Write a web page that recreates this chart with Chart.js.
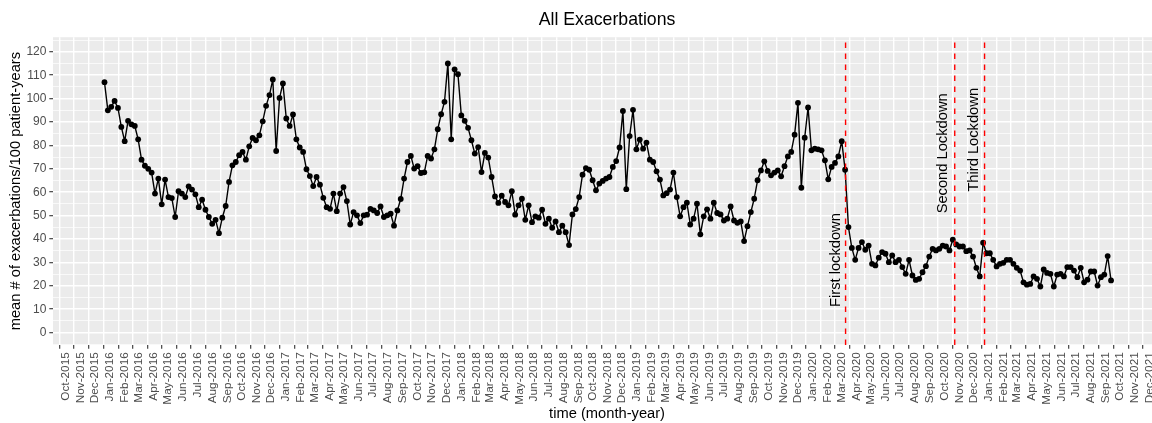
<!DOCTYPE html>
<html>
  <head>
    <meta charset="utf-8" />
    <title>All Exacerbations</title>
    <script src="https://cdnjs.cloudflare.com/ajax/libs/Chart.js/4.4.0/chart.umd.min.js"></script>
    <style>
      html, body { margin: 0; padding: 0; background: #ffffff; overflow: hidden; }
    </style>
  </head>
  <body>
    <canvas id="myChart" width="1164" height="423" style="width:1164px;height:423px"></canvas>

    <script>
      // weekly mean exacerbation rate, one value per week starting 2016-01-03
      var firstWeek = "2016-01-03";
      var rates2016 = [107.0, 95.0, 96.5, 99.0, 96.0, 87.9, 81.8, 90.5, 89.0, 88.3,
        82.6, 73.9, 71.3, 70.0, 68.4, 59.4, 65.8, 54.8, 65.4, 57.9,
        57.5, 49.4, 60.4, 59.4, 57.9, 62.5, 61.1, 59.1, 53.6, 56.8,
        52.5, 49.4, 46.5, 48.2, 42.5, 49.1, 54.1, 64.4, 71.5, 72.9,
        75.8, 77.2, 73.9, 79.6, 83.2, 82.2, 84.3, 90.3, 96.9, 101.5,
        108.2, 77.6];
      var rates2017 = [100.3, 106.5, 91.5, 88.3, 93.2, 82.6, 79.1, 77.2, 69.8, 66.9,
        62.6, 66.5, 63.2, 57.6, 53.6, 52.9, 59.4, 51.9, 59.4, 62.2,
        56.2, 46.2, 51.5, 50.1, 46.8, 50.1, 50.4, 52.9, 52.2, 51.1,
        53.9, 49.4, 50.1, 50.8, 45.7, 52.2, 57.1, 65.8, 72.9, 75.5,
        70.1, 71.1, 68.2, 68.5, 75.5, 74.4, 78.3, 86.9, 93.3, 98.6,
        115.0, 82.6, 112.5];
      var rates2018 = [110.4, 92.8, 90.5, 87.5, 82.2, 76.5, 79.3, 68.6, 76.8, 74.8,
        66.5, 58.2, 55.4, 58.5, 55.8, 54.4, 60.4, 50.4, 54.4, 57.2,
        48.2, 54.4, 47.2, 49.7, 49.1, 52.5, 46.5, 48.7, 44.8, 47.5,
        42.9, 45.7, 42.9, 37.4, 50.5, 52.8, 57.9, 67.5, 70.3, 69.6,
        65.1, 60.8, 63.7, 64.8, 65.8, 66.5, 70.8, 73.3, 79.1, 94.7,
        61.3, 84.0];
      var rates2019 = [95.2, 78.3, 82.5, 78.6, 81.2, 73.9, 72.9, 68.9, 65.4, 58.6,
        59.6, 61.1, 68.4, 57.9, 49.7, 53.6, 55.5, 46.2, 48.7, 55.1,
        42.0, 49.7, 52.7, 48.7, 55.5, 51.1, 50.5, 47.9, 48.7, 53.9,
        47.9, 46.9, 47.5, 39.1, 45.5, 51.5, 57.2, 65.1, 69.3, 73.2,
        69.1, 67.2, 68.4, 69.3, 66.8, 71.1, 75.3, 77.2, 84.6, 98.2,
        61.9, 83.3];
      var rates2020 = [96.2, 77.9, 78.6, 78.3, 77.9, 73.6, 65.5, 70.8, 72.5, 75.3,
        81.8, 69.6, 45.1, 36.2, 31.1, 36.2, 38.7, 35.4, 37.2, 29.4,
        28.7, 32.0, 34.4, 33.7, 30.1, 33.0, 30.1, 31.1, 28.0, 25.1,
        31.1, 24.4, 22.5, 23.0, 25.8, 28.4, 32.5, 35.8, 35.1, 35.8,
        37.2, 36.8, 35.1, 39.7, 37.7, 36.8, 36.8, 34.8, 35.1, 32.5,
        27.7, 24.0];
      var rates2021 = [38.4, 33.9, 33.9, 31.1, 28.3, 29.4, 29.8, 31.1, 31.1, 29.4,
        27.7, 26.5, 21.5, 20.5, 20.8, 24.0, 23.0, 19.7, 27.0, 25.5,
        25.1, 19.7, 24.8, 25.1, 24.0, 28.0, 28.0, 26.5, 23.7, 27.7,
        21.5, 22.6, 26.1, 26.1, 20.1, 23.7, 24.8, 32.7, 22.3];

      var monthTicks = ["Oct-2015", "Nov-2015", "Dec-2015",
        "Jan-2016", "Feb-2016", "Mar-2016", "Apr-2016", "May-2016", "Jun-2016", "Jul-2016", "Aug-2016", "Sep-2016", "Oct-2016", "Nov-2016", "Dec-2016",
        "Jan-2017", "Feb-2017", "Mar-2017", "Apr-2017", "May-2017", "Jun-2017", "Jul-2017", "Aug-2017", "Sep-2017", "Oct-2017", "Nov-2017", "Dec-2017",
        "Jan-2018", "Feb-2018", "Mar-2018", "Apr-2018", "May-2018", "Jun-2018", "Jul-2018", "Aug-2018", "Sep-2018", "Oct-2018", "Nov-2018", "Dec-2018",
        "Jan-2019", "Feb-2019", "Mar-2019", "Apr-2019", "May-2019", "Jun-2019", "Jul-2019", "Aug-2019", "Sep-2019", "Oct-2019", "Nov-2019", "Dec-2019",
        "Jan-2020", "Feb-2020", "Mar-2020", "Apr-2020", "May-2020", "Jun-2020", "Jul-2020", "Aug-2020", "Sep-2020", "Oct-2020", "Nov-2020", "Dec-2020",
        "Jan-2021", "Feb-2021", "Mar-2021", "Apr-2021", "May-2021", "Jun-2021", "Jul-2021", "Aug-2021", "Sep-2021", "Oct-2021", "Nov-2021", "Dec-2021"];
      var yTicks = [0, 10, 20, 30, 40, 50, 60, 70, 80, 90, 100, 110, 120];

      var lockdownDates = ["2020-03-23", "2020-11-05", "2021-01-06"];
      var lockdownLabels = ["First lockdown", "Second Lockdown", "Third Lockdown"];

      var FONT = "'Liberation Sans', Arial, sans-serif";
      var DAY = 86400000;
      var origin = Date.UTC(2015, 9, 1);
      var MON = { Jan: 0, Feb: 1, Mar: 2, Apr: 3, May: 4, Jun: 5, Jul: 6, Aug: 7, Sep: 8, Oct: 9, Nov: 10, Dec: 11 };

      function dayOfDate(s) {
        var p = s.split("-");
        return (Date.UTC(+p[0], +p[1] - 1, +p[2]) - origin) / DAY;
      }
      function dayOfMonth(lbl) {
        var p = lbl.split("-");
        return (Date.UTC(+p[1], MON[p[0]], 1) - origin) / DAY;
      }

      var allRates = [].concat(rates2016, rates2017, rates2018, rates2019, rates2020, rates2021);
      var start = dayOfDate(firstWeek);
      var points = allRates.map(function (v, i) {
        return { x: start + 7 * i, y: v };
      });

      // minor y lines halfway between the labelled ones
      var yGrid = [];
      for (var k = 0; k < yTicks.length; k++) {
        if (k === 0) yGrid.push(yTicks[0] - 5);
        yGrid.push(yTicks[k]);
        yGrid.push(yTicks[k] + 5);
      }
      function isMajor(v) {
        return yTicks.indexOf(v) >= 0;
      }

      var panelPlugin = {
        id: "panel",
        beforeDraw: function (chart) {
          var a = chart.chartArea, ctx = chart.ctx;
          ctx.save();
          ctx.fillStyle = "#EBEBEB";
          ctx.fillRect(a.left, a.top, a.right - a.left, a.bottom - a.top);
          ctx.restore();
        }
      };

      var lockdownPlugin = {
        id: "lockdowns",
        afterDatasetsDraw: function (chart, args, opts) {
          var ctx = chart.ctx, a = chart.chartArea;
          var xs = chart.scales.x, ys = chart.scales.y;
          ctx.save();
          ctx.beginPath();
          ctx.rect(a.left, a.top, a.right - a.left, a.bottom - a.top);
          ctx.clip();
          ctx.strokeStyle = "#FF0000";
          ctx.lineWidth = 1.4;
          ctx.setLineDash([5.5, 5.5]);
          lockdownDates.forEach(function (d) {
            var px = xs.getPixelForValue(dayOfDate(d));
            ctx.beginPath();
            ctx.moveTo(px, a.bottom);
            ctx.lineTo(px, a.top);
            ctx.stroke();
          });
          ctx.setLineDash([]);
          ctx.fillStyle = "#000000";
          ctx.font = "14.7px " + FONT;
          ctx.textAlign = "center";
          ctx.textBaseline = "middle";
          lockdownLabels.forEach(function (t, i) {
            var an = opts.anchors[i];
            ctx.save();
            ctx.translate(xs.getPixelForValue(dayOfDate(an.date)), ys.getPixelForValue(an.y));
            ctx.rotate(-Math.PI / 2);
            ctx.fillText(t, 0, 0);
            ctx.restore();
          });
          ctx.restore();
        }
      };

      var ctx = document.getElementById("myChart").getContext("2d");
      var myChart = new Chart(ctx, {
        type: "line",
        data: {
          datasets: [
            {
              label: "All Exacerbations",
              data: points,
              borderColor: "#000000",
              borderWidth: 1.4,
              borderJoinStyle: "round",
              pointRadius: 2.9,
              pointHoverRadius: 2.9,
              pointBackgroundColor: "#000000",
              pointBorderWidth: 0,
              tension: 0,
              fill: false
            }
          ]
        },
        options: {
          responsive: false,
          animation: false,
          layout: { padding: 0 },
          plugins: {
            legend: { display: false },
            tooltip: { enabled: false },
            title: {
              display: true,
              text: "All Exacerbations",
              color: "#000000",
              fullSize: false,
              font: { family: FONT, size: 17.7, weight: "normal" },
              padding: { top: 9, bottom: 7 }
            },
            lockdowns: {
              anchors: [
                { date: "2020-03-02", y: 31 },
                { date: "2020-10-11", y: 76.6 },
                { date: "2020-12-14", y: 82.4 }
              ]
            }
          },
          scales: {
            x: {
              type: "linear",
              min: -13.07,
              max: 2291.1,
              afterBuildTicks: function (scale) {
                scale.ticks = monthTicks.map(function (l) {
                  return { value: dayOfMonth(l) };
                });
              },
              afterFit: function (scale) {
                scale.height = 78;
              },
              ticks: {
                autoSkip: false,
                minRotation: 90,
                maxRotation: 90,
                padding: 3.5,
                labelOffset: 6.5,
                color: "#4D4D4D",
                font: { family: FONT, size: 11.8 },
                callback: function (value, index) {
                  return monthTicks[index];
                }
              },
              grid: {
                color: "#FFFFFF",
                lineWidth: 1.4,
                tickLength: 3.7,
                tickColor: "#333333",
                tickWidth: 1.1
              },
              border: { display: false },
              title: {
                display: true,
                text: "time (month-year)",
                color: "#000000",
                font: { family: FONT, size: 14.7 },
                padding: { top: 0, bottom: 0 }
              }
            },
            y: {
              min: -5.3,
              max: 126.22,
              afterBuildTicks: function (scale) {
                scale.ticks = yGrid.map(function (v) {
                  return { value: v };
                });
              },
              afterFit: function (scale) {
                scale.width = 53;
              },
              ticks: {
                autoSkip: false,
                padding: 2.9,
                color: "#4D4D4D",
                font: { family: FONT, size: 12 },
                callback: function (value) {
                  return isMajor(value) ? String(value) : "";
                }
              },
              grid: {
                color: "#FFFFFF",
                lineWidth: function (c) {
                  return c.tick && isMajor(c.tick.value) ? 1.4 : 0.7;
                },
                tickLength: 3.7,
                tickWidth: 1.1,
                tickColor: function (c) {
                  return c.tick && isMajor(c.tick.value) ? "#333333" : "rgba(0,0,0,0)";
                }
              },
              border: { display: false },
              title: {
                display: true,
                text: "mean # of exacerbations/100 patient-years",
                color: "#000000",
                font: { family: FONT, size: 14.7 },
                padding: { top: 7.6, bottom: 0 }
              }
            }
          }
        },
        plugins: [panelPlugin, lockdownPlugin]
      });
    </script>
  </body>
</html>
